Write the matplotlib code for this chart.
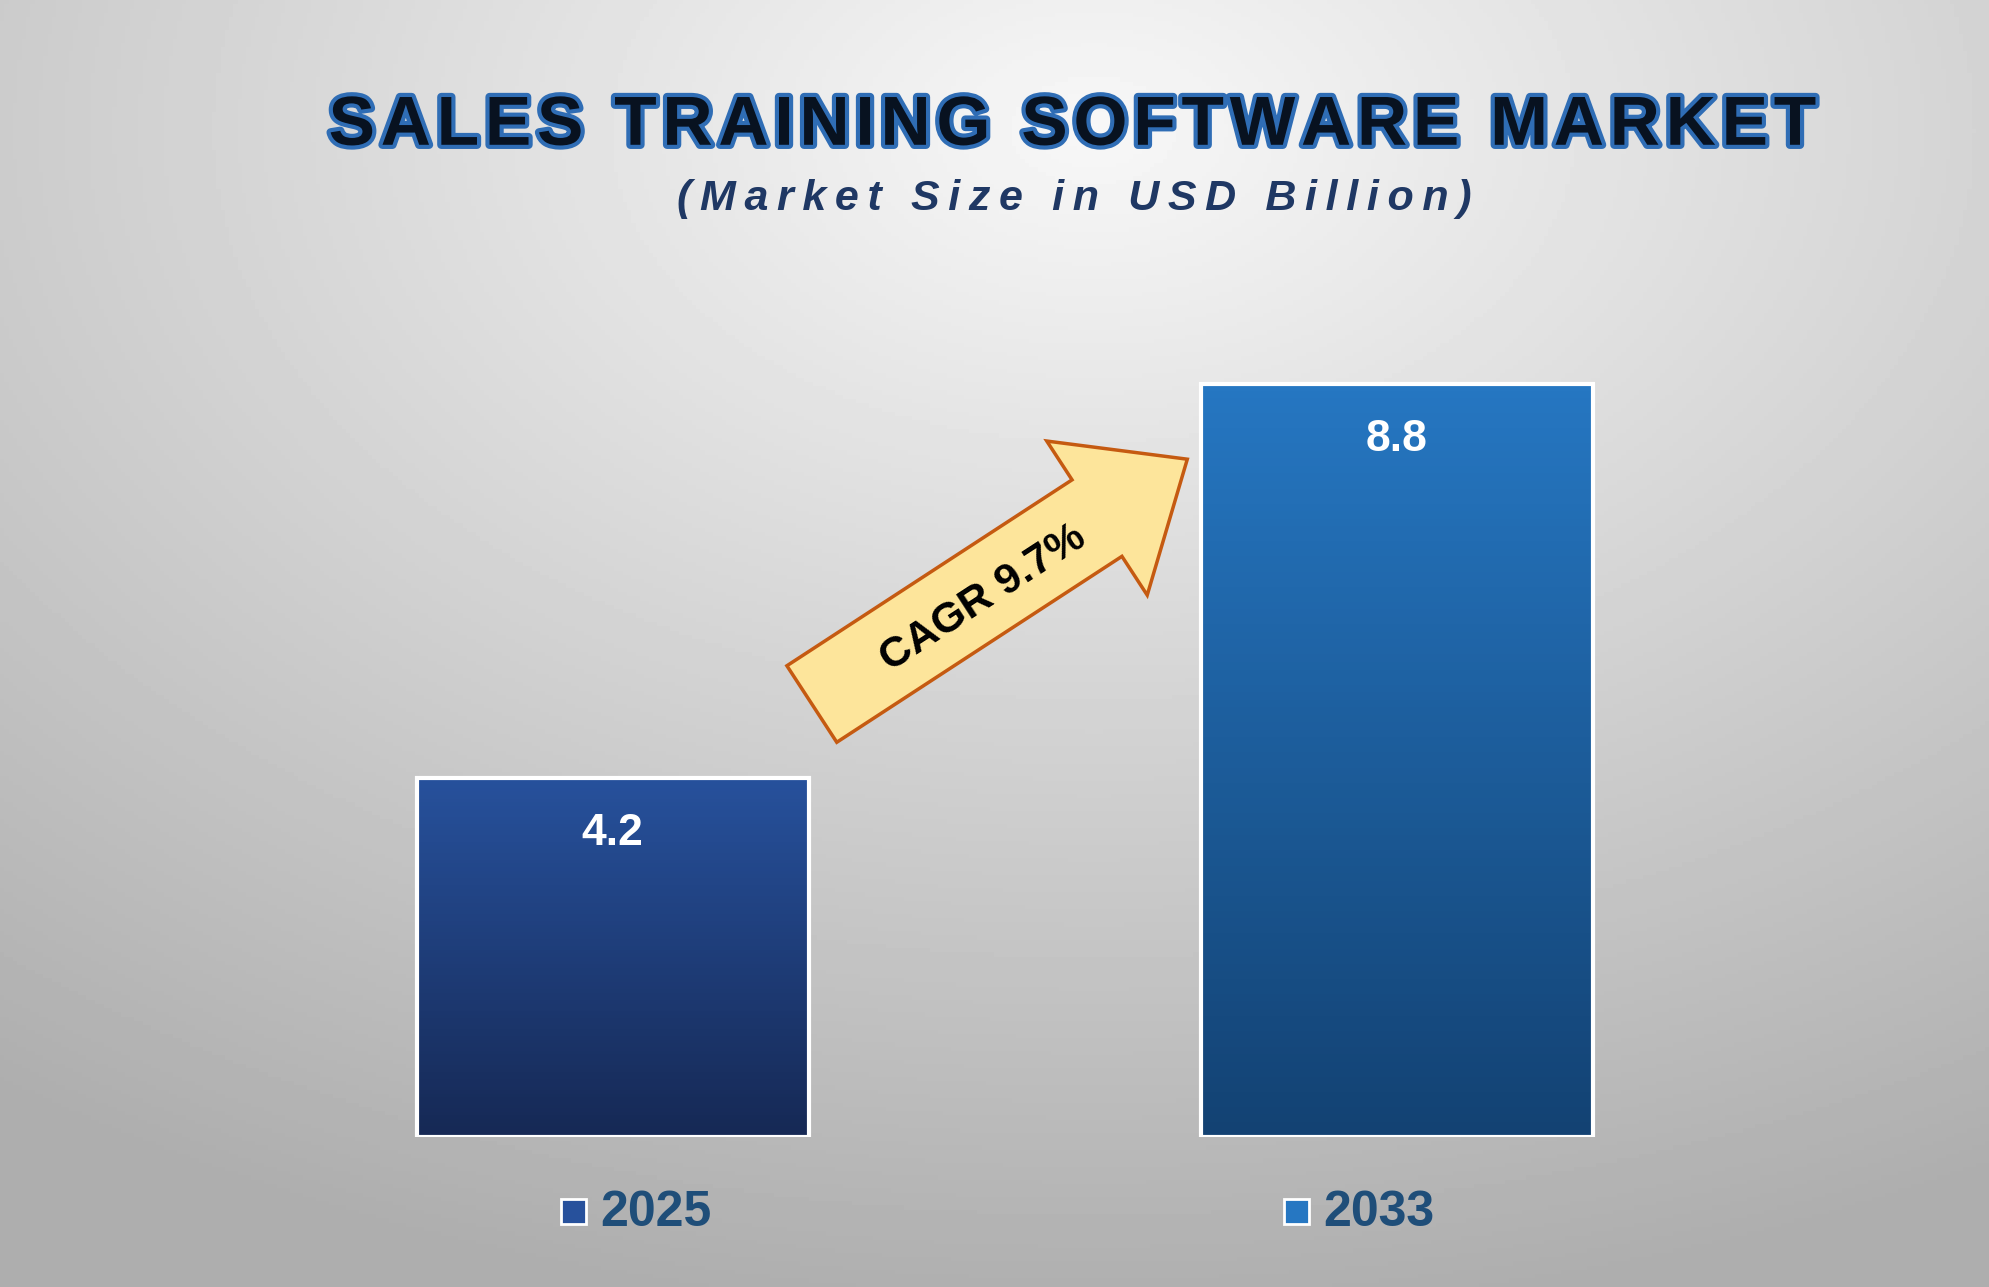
import numpy as np
import matplotlib
matplotlib.use("Agg")
import matplotlib.pyplot as plt
import matplotlib.patches as mpatches
import matplotlib.patheffects as pe
from matplotlib.transforms import Affine2D
from matplotlib.colors import LinearSegmentedColormap

years = ["2025", "2033"]
values = [4.2, 8.8]
cagr_label = "CAGR 9.7%"
title = "SALES TRAINING SOFTWARE MARKET"
subtitle = "(Market Size in USD Billion)"

def spaced(t, sep):
    return sep.join(t)

W, H = 1989, 1287
fig = plt.figure(figsize=(W/100, H/100), dpi=100)
s = W/1568
ref = Affine2D().scale(s, -s).translate(0, H)

bg = fig.add_axes([0, 0, 1, 1]); bg.axis("off")
yy, xx = np.mgrid[0:1:300j, 0:1:460j]
d = np.sqrt(((xx-0.55)/0.9)**2 + ((yy-0.1)/0.9)**2)
g = np.clip(0.97 - 0.28*d, 0.68, 0.97)
bg.imshow(g, cmap="gray", vmin=0, vmax=1, aspect="auto", extent=[0, 1, 0, 1], origin="upper")
bg.set_xlim(0, 1); bg.set_ylim(0, 1)

ax = fig.add_axes([0, 1-897/1015, 1, 675/1015])
ax.axis("off")
ax.set_xlim(-483/618, (1568-483)/618)
ax.set_ylim(0, 10)
tops = [("#27519c", "#162955"), ("#2677c2", "#134273")]
bars = ax.bar(range(len(values)), values, width=0.5, color="none", edgecolor="white", linewidth=3, zorder=3)
for b, (c1, c2), v in zip(bars, tops, values):
    x0, w = b.get_x(), b.get_width()
    cm = LinearSegmentedColormap.from_list("g", [c2, c1])
    im = ax.imshow(np.linspace(0, 1, 100).reshape(-1, 1), cmap=cm, aspect="auto",
                   extent=[x0, x0+w, 0, v], origin="lower", zorder=2)
    im.set_clip_path(b)
    ax.text(x0+w/2, v-0.65, f"{v}", ha="center", va="center", color="white",
            fontsize=32, fontweight="bold", family="Liberation Sans", zorder=4)

arr = mpatches.FancyArrow(640, 555, 296, -193, width=72, head_width=145,
                          head_length=85, length_includes_head=True,
                          fc="#fde59b", ec="#c55a11", lw=2.5, transform=ref, zorder=5)
fig.add_artist(arr)
fig.text(775/1568, 1-472/1015, cagr_label, rotation=33, ha="center", va="center",
         fontsize=31, fontweight="bold", family="Liberation Sans", color="black", zorder=6)

fig.text(845/1568, 1-100/1015, spaced(title, "\u200a"), ha="center", va="center", fontsize=50,
         fontweight="bold", family="Liberation Sans", color="#081220",
         path_effects=[pe.withStroke(linewidth=6, foreground="#2f6db5")])
fig.text(847/1568, 1-157/1015, spaced(subtitle, "\u2009"), ha="center", va="center", fontsize=31,
         fontweight="bold", style="italic", family="Liberation Sans", color="#1f3864")

for xc, yr, (c1, c2) in zip([505, 1075], years, tops):
    sq = mpatches.Rectangle((xc-63, 945), 20, 20, fc=c1, ec="white", lw=2, transform=ref)
    fig.add_artist(sq)
    fig.text((xc-32)/1568, 1-957/1015, yr, ha="left", va="center", fontsize=36,
             fontweight="bold", family="Liberation Sans", color="#1f4e79")

fig.savefig("out.png", dpi=100)
